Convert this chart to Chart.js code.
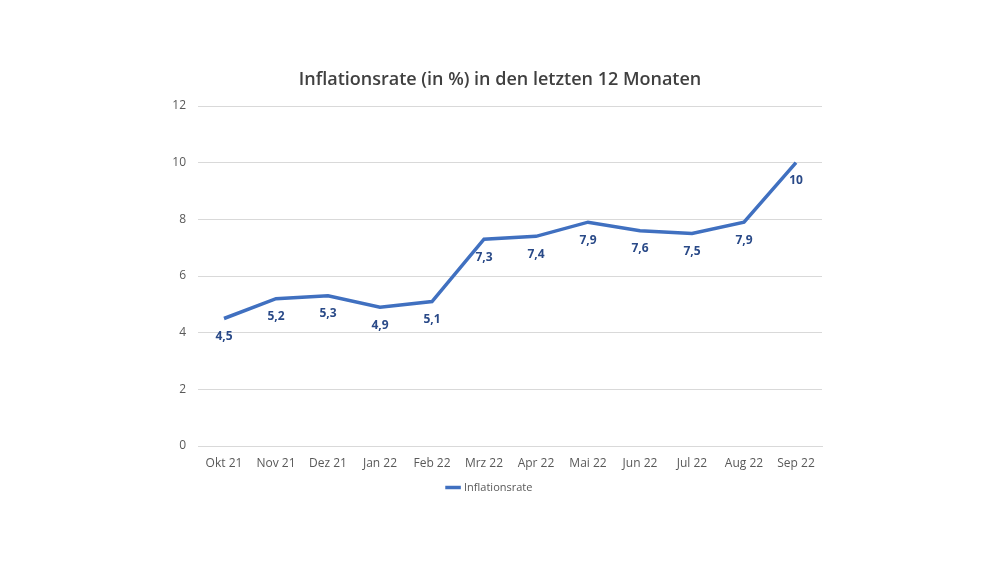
<!DOCTYPE html>
<html>
<head>
<meta charset="utf-8">
<script src="https://cdn.jsdelivr.net/npm/chart.js@4"></script>
<style>
  html, body { margin: 0; padding: 0; background: #fff; }
  #wrap { width: 1000px; height: 563px; }
</style>
</head>
<body>
<div id="wrap"><canvas id="chart" width="1000" height="563"></canvas></div>
<script>
// chart data
const months = ['Okt 21', 'Nov 21', 'Dez 21', 'Jan 22', 'Feb 22', 'Mrz 22',
  'Apr 22', 'Mai 22', 'Jun 22', 'Jul 22', 'Aug 22', 'Sep 22'];
const inflation = [4.5, 5.2, 5.3, 4.9, 5.1, 7.3, 7.4, 7.9, 7.6, 7.5, 7.9, 10];
const yTicks = [0, 2, 4, 6, 8, 10, 12];
const chartTitle = 'Inflationsrate (in %) in den letzten 12 Monaten';

const lineColor = '#4070c0';
const labelColor = '#2a4a88';
const textColor = '#595959';
const fontFamily = '"Open Sans", "Noto Sans", sans-serif';

// title centred on the whole canvas, like the original
const pageTitle = {
  id: 'pageTitle',
  afterDraw(chart) {
    const ctx = chart.ctx;
    ctx.save();
    ctx.font = '600 18px ' + fontFamily;
    ctx.fillStyle = '#404040';
    ctx.textAlign = 'center';
    ctx.textBaseline = 'middle';
    ctx.fillText(chartTitle, chart.width / 2, 80);
    ctx.restore();
  }
};

// writes each value under its point, German decimal comma
const valueLabels = {
  id: 'valueLabels',
  afterDatasetsDraw(chart) {
    const ctx = chart.ctx;
    const meta = chart.getDatasetMeta(0);
    ctx.save();
    ctx.font = '700 12px ' + fontFamily;
    ctx.fillStyle = labelColor;
    ctx.textAlign = 'center';
    ctx.textBaseline = 'middle';
    meta.data.forEach((pt, i) => {
      const txt = String(inflation[i]).replace('.', ',');
      ctx.fillText(txt, pt.x, pt.y + 18);
    });
    ctx.restore();
  }
};

new Chart(document.getElementById('chart'), {
  type: 'line',
  data: {
    labels: months,
    datasets: [{
      label: 'Inflationsrate',
      data: inflation,
      borderColor: lineColor,
      backgroundColor: lineColor,
      borderWidth: 3.5,
      tension: 0,
      pointRadius: 0,
      pointHoverRadius: 0,
    }],
  },
  options: {
    responsive: false,
    animation: false,
    devicePixelRatio: 1,
    layout: {
      padding: { left: 158, right: 178, top: 106, bottom: 60 },
    },
    plugins: {
      title: { display: false },
      legend: {
        display: true,
        position: 'bottom',
        labels: {
          usePointStyle: true,
          pointStyle: 'line',
          color: textColor,
          font: { family: fontFamily, size: 11 },
          boxWidth: 24,
          padding: 6,
        },
      },
      tooltip: { enabled: false },
    },
    scales: {
      x: {
        offset: true,
        grid: { display: false },
        border: { color: '#d9d9d9' },
        afterFit: (axis) => { axis.height = 30; },
        ticks: {
          color: textColor,
          font: { family: fontFamily, size: 12 },
          maxRotation: 0,
          padding: 2,
        },
      },
      y: {
        min: 0,
        max: 12,
        afterBuildTicks: (axis) => {
          axis.ticks = yTicks.map(v => ({ value: v }));
        },
        afterFit: (axis) => { axis.width = 40; },
        grid: { color: '#d9d9d9', drawTicks: false },
        border: { display: false },
        ticks: {
          color: textColor,
          font: { family: fontFamily, size: 12 },
          padding: 12,
        },
      },
    },
  },
  plugins: [valueLabels, pageTitle],
});
</script>
</body>
</html>
